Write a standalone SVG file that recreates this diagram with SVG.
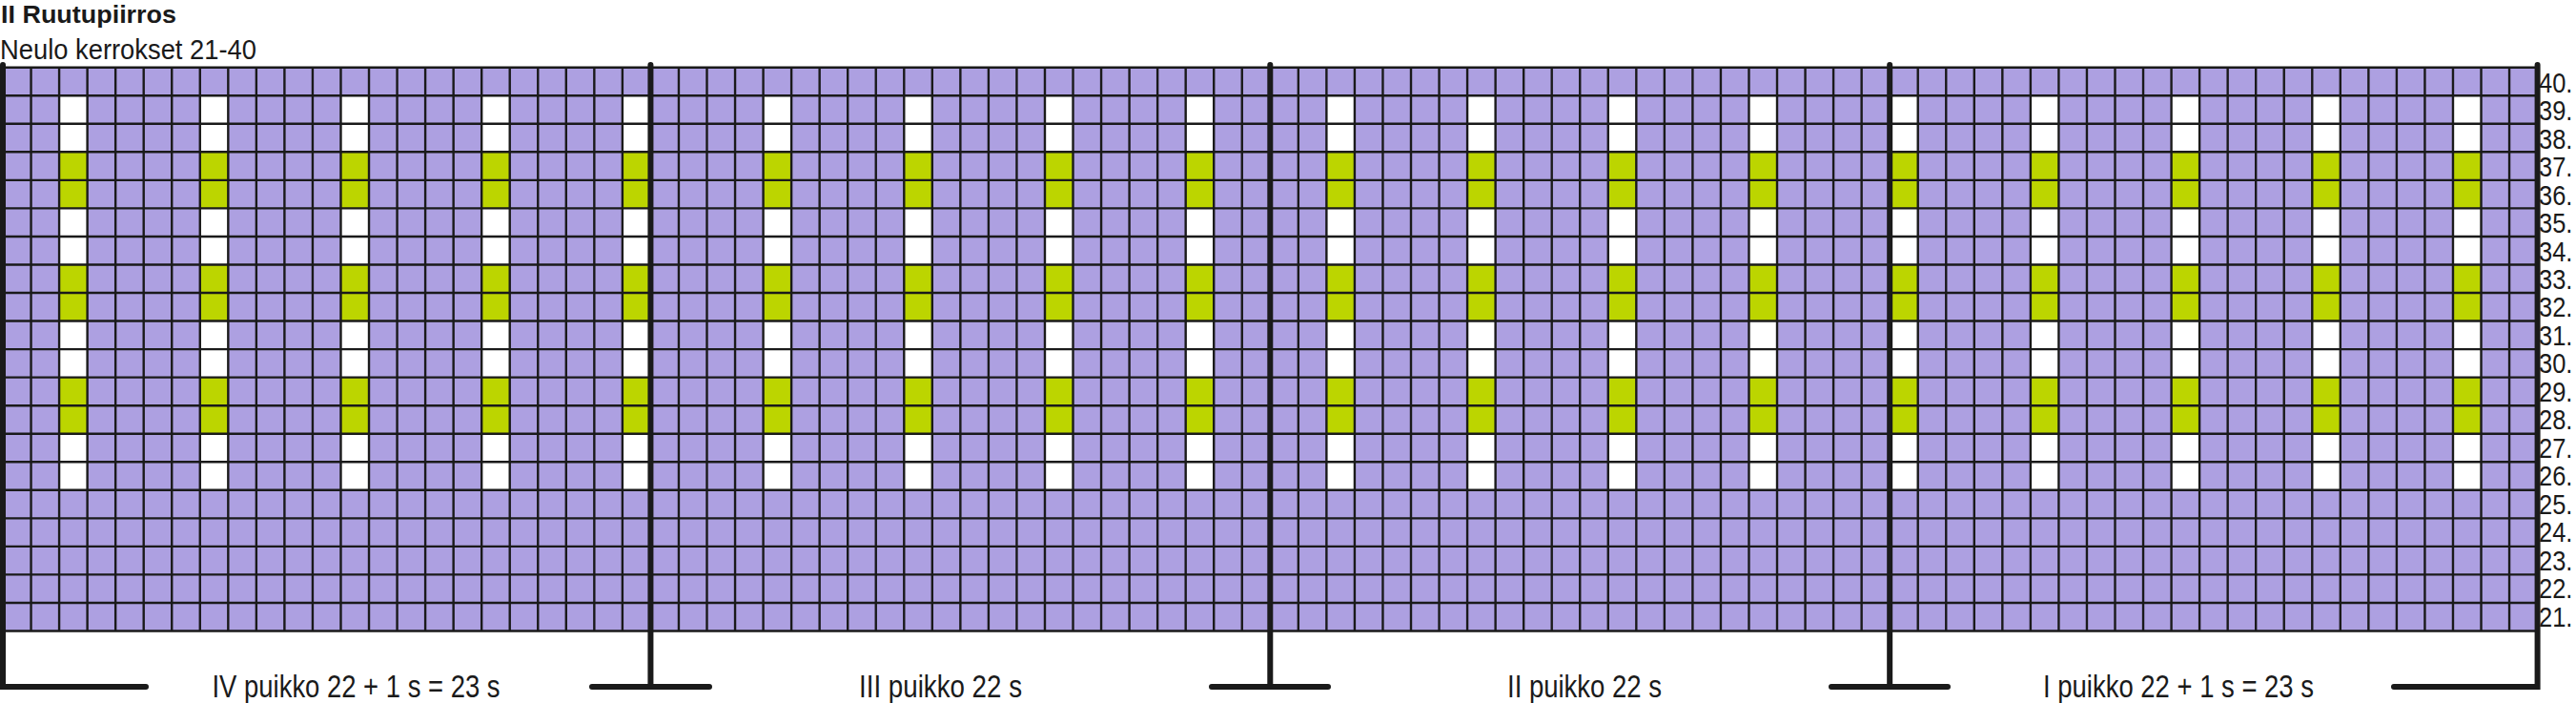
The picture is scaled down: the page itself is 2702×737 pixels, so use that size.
<svg xmlns="http://www.w3.org/2000/svg" xmlns:xlink="http://www.w3.org/1999/xlink" width="2702" height="737" viewBox="0 0 2702 737">
<style>
text{font-family:"Liberation Sans",Arial,sans-serif;fill:#1a1a1a}
.title{font-size:26px;font-weight:bold}
.sub{font-size:29px}
.row{font-size:30px}
.sec{font-size:33px}
.grid{fill:none;stroke:#1a1a1a;stroke-width:2.4}
.thick{fill:none;stroke:#1a1a1a;stroke-width:6;stroke-linecap:round;stroke-linejoin:miter}
.w{fill:#ffffff}
.g{fill:#bcd500}
</style>
<defs>
<g id="stripe">
<rect class="w" x="0" y="100.24" width="29.54" height="413.56"/>
<rect class="g" x="0" y="159.32" width="29.54" height="59.08"/>
<rect class="g" x="0" y="277.48" width="29.54" height="59.08"/>
<rect class="g" x="0" y="395.64" width="29.54" height="59.08"/>
</g>
</defs>
<rect width="2702" height="737" fill="#ffffff"/>
<g id="title">
<text class="title" x="1" y="24" textLength="184" lengthAdjust="spacingAndGlyphs">II Ruutupiirros</text>
<text class="sub" x="0" y="62.3" textLength="269" lengthAdjust="spacingAndGlyphs">Neulo kerrokset 21-40</text>
</g>
<g id="chart">
<rect x="3" y="70.7" width="2658.6" height="590.8" fill="#ada0e1"/>
<g id="pattern">
<use xlink:href="#stripe" x="62.08"/>
<use xlink:href="#stripe" x="209.78"/>
<use xlink:href="#stripe" x="357.48"/>
<use xlink:href="#stripe" x="505.18"/>
<use xlink:href="#stripe" x="652.88"/>
<use xlink:href="#stripe" x="800.58"/>
<use xlink:href="#stripe" x="948.28"/>
<use xlink:href="#stripe" x="1095.98"/>
<use xlink:href="#stripe" x="1243.68"/>
<use xlink:href="#stripe" x="1391.38"/>
<use xlink:href="#stripe" x="1539.08"/>
<use xlink:href="#stripe" x="1686.78"/>
<use xlink:href="#stripe" x="1834.48"/>
<use xlink:href="#stripe" x="1982.18"/>
<use xlink:href="#stripe" x="2129.88"/>
<use xlink:href="#stripe" x="2277.58"/>
<use xlink:href="#stripe" x="2425.28"/>
<use xlink:href="#stripe" x="2572.98"/>
</g>
<path class="grid" d="M3 70.7H2661.6M3 100.24H2661.6M3 129.78H2661.6M3 159.32H2661.6M3 188.86H2661.6M3 218.4H2661.6M3 247.94H2661.6M3 277.48H2661.6M3 307.02H2661.6M3 336.56H2661.6M3 366.1H2661.6M3 395.64H2661.6M3 425.18H2661.6M3 454.72H2661.6M3 484.26H2661.6M3 513.8H2661.6M3 543.34H2661.6M3 572.88H2661.6M3 602.42H2661.6M3 631.96H2661.6M3 661.5H2661.6
M32.54 70.7V661.5M62.08 70.7V661.5M91.62 70.7V661.5M121.16 70.7V661.5M150.7 70.7V661.5M180.24 70.7V661.5M209.78 70.7V661.5M239.32 70.7V661.5M268.86 70.7V661.5M298.4 70.7V661.5M327.94 70.7V661.5M357.48 70.7V661.5M387.02 70.7V661.5M416.56 70.7V661.5M446.1 70.7V661.5M475.64 70.7V661.5M505.18 70.7V661.5M534.72 70.7V661.5M564.26 70.7V661.5M593.8 70.7V661.5M623.34 70.7V661.5M652.88 70.7V661.5M711.96 70.7V661.5M741.5 70.7V661.5M771.04 70.7V661.5M800.58 70.7V661.5M830.12 70.7V661.5M859.66 70.7V661.5M889.2 70.7V661.5M918.74 70.7V661.5M948.28 70.7V661.5M977.82 70.7V661.5M1007.36 70.7V661.5M1036.9 70.7V661.5M1066.44 70.7V661.5M1095.98 70.7V661.5M1125.52 70.7V661.5M1155.06 70.7V661.5M1184.6 70.7V661.5M1214.14 70.7V661.5M1243.68 70.7V661.5M1273.22 70.7V661.5M1302.76 70.7V661.5M1361.84 70.7V661.5M1391.38 70.7V661.5M1420.92 70.7V661.5M1450.46 70.7V661.5M1480 70.7V661.5M1509.54 70.7V661.5M1539.08 70.7V661.5M1568.62 70.7V661.5M1598.16 70.7V661.5M1627.7 70.7V661.5M1657.24 70.7V661.5M1686.78 70.7V661.5M1716.32 70.7V661.5M1745.86 70.7V661.5M1775.4 70.7V661.5M1804.94 70.7V661.5M1834.48 70.7V661.5M1864.02 70.7V661.5M1893.56 70.7V661.5M1923.1 70.7V661.5M1952.64 70.7V661.5M2011.72 70.7V661.5M2041.26 70.7V661.5M2070.8 70.7V661.5M2100.34 70.7V661.5M2129.88 70.7V661.5M2159.42 70.7V661.5M2188.96 70.7V661.5M2218.5 70.7V661.5M2248.04 70.7V661.5M2277.58 70.7V661.5M2307.12 70.7V661.5M2336.66 70.7V661.5M2366.2 70.7V661.5M2395.74 70.7V661.5M2425.28 70.7V661.5M2454.82 70.7V661.5M2484.36 70.7V661.5M2513.9 70.7V661.5M2543.44 70.7V661.5M2572.98 70.7V661.5M2602.52 70.7V661.5M2632.06 70.7V661.5"/>
</g>
<g id="brackets">
<path class="thick" d="M153 720H3V68"/>
<path class="thick" d="M682.42 68V720M621 720H744"/>
<path class="thick" d="M1332.3 68V720M1271 720H1393"/>
<path class="thick" d="M1982.18 68V720M1921 720H2043"/>
<path class="thick" d="M2511 720H2661.6V68"/>
</g>
<g id="row-labels">
<text class="row" x="2663" y="96.7" textLength="35.4" lengthAdjust="spacingAndGlyphs">40.</text>
<text class="row" x="2663" y="126.17" textLength="35.4" lengthAdjust="spacingAndGlyphs">39.</text>
<text class="row" x="2663" y="155.64" textLength="35.4" lengthAdjust="spacingAndGlyphs">38.</text>
<text class="row" x="2663" y="185.11" textLength="35.4" lengthAdjust="spacingAndGlyphs">37.</text>
<text class="row" x="2663" y="214.58" textLength="35.4" lengthAdjust="spacingAndGlyphs">36.</text>
<text class="row" x="2663" y="244.05" textLength="35.4" lengthAdjust="spacingAndGlyphs">35.</text>
<text class="row" x="2663" y="273.52" textLength="35.4" lengthAdjust="spacingAndGlyphs">34.</text>
<text class="row" x="2663" y="302.99" textLength="35.4" lengthAdjust="spacingAndGlyphs">33.</text>
<text class="row" x="2663" y="332.46" textLength="35.4" lengthAdjust="spacingAndGlyphs">32.</text>
<text class="row" x="2663" y="361.93" textLength="35.4" lengthAdjust="spacingAndGlyphs">31.</text>
<text class="row" x="2663" y="391.4" textLength="35.4" lengthAdjust="spacingAndGlyphs">30.</text>
<text class="row" x="2663" y="420.87" textLength="35.4" lengthAdjust="spacingAndGlyphs">29.</text>
<text class="row" x="2663" y="450.34" textLength="35.4" lengthAdjust="spacingAndGlyphs">28.</text>
<text class="row" x="2663" y="479.81" textLength="35.4" lengthAdjust="spacingAndGlyphs">27.</text>
<text class="row" x="2663" y="509.28" textLength="35.4" lengthAdjust="spacingAndGlyphs">26.</text>
<text class="row" x="2663" y="538.75" textLength="35.4" lengthAdjust="spacingAndGlyphs">25.</text>
<text class="row" x="2663" y="568.22" textLength="35.4" lengthAdjust="spacingAndGlyphs">24.</text>
<text class="row" x="2663" y="597.69" textLength="35.4" lengthAdjust="spacingAndGlyphs">23.</text>
<text class="row" x="2663" y="627.16" textLength="35.4" lengthAdjust="spacingAndGlyphs">22.</text>
<text class="row" x="2663" y="656.63" textLength="35.4" lengthAdjust="spacingAndGlyphs">21.</text>
</g>
<g id="section-labels">
<text class="sec" x="222.5" y="731" textLength="302" lengthAdjust="spacingAndGlyphs">IV puikko 22 + 1 s = 23 s</text>
<text class="sec" x="901" y="731" textLength="171" lengthAdjust="spacingAndGlyphs">III puikko 22 s</text>
<text class="sec" x="1581" y="731" textLength="162" lengthAdjust="spacingAndGlyphs">II puikko 22 s</text>
<text class="sec" x="2143" y="731" textLength="284" lengthAdjust="spacingAndGlyphs">I puikko 22 + 1 s = 23 s</text>
</g>
</svg>
